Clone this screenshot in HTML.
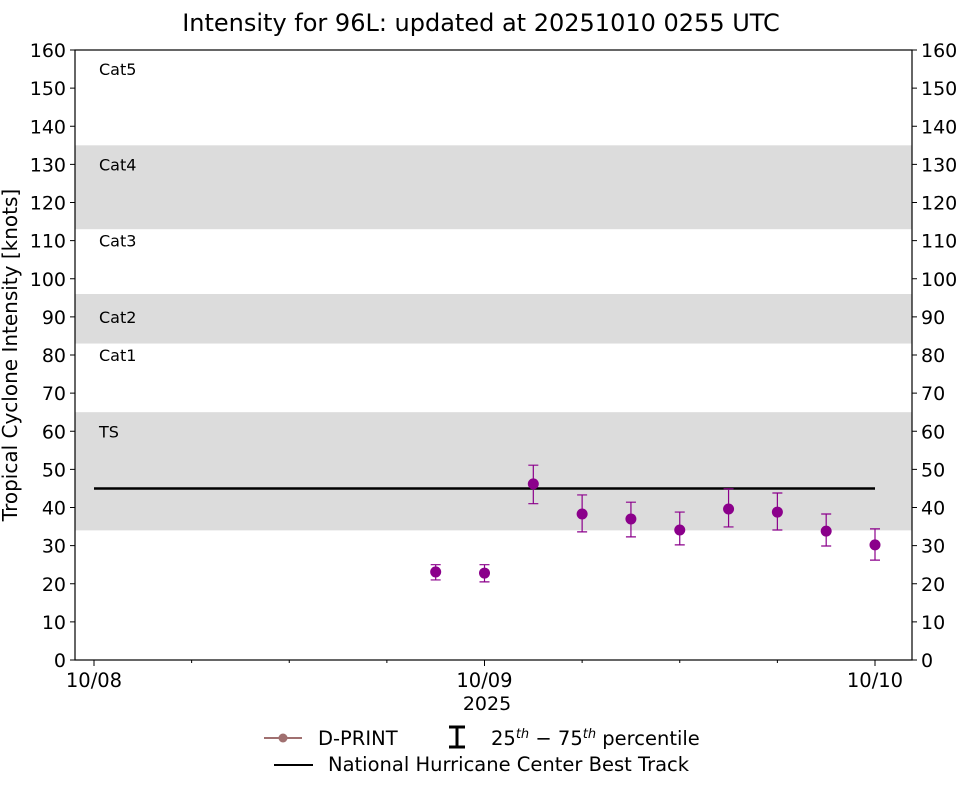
<!DOCTYPE html>
<html><head><meta charset="utf-8">
<style>body{margin:0;background:#fff}svg{font-family:"DejaVu Sans","Liberation Sans",sans-serif}</style>
</head><body>
<svg id="chart" width="962" height="785" xmlns="http://www.w3.org/2000/svg">
<text x="481" y="31" font-size="24" text-anchor="middle">Intensity for 96L: updated at 20251010 0255 UTC</text>
<g id="bands"></g>
<g id="axes"></g>
<g id="marks"></g>
<rect x="75" y="50" width="837" height="610" fill="none" stroke="#000" stroke-width="1.2"/>
<text x="0" y="0" transform="translate(17,355) rotate(-90)" font-size="20" text-anchor="middle">Tropical Cyclone Intensity [knots]</text>
<text x="487" y="710" font-size="19" text-anchor="middle">2025</text>
<g>
<line x1="264" y1="738" x2="302" y2="738" stroke="#a07070" stroke-width="2"/>
<circle cx="283" cy="738" r="4.5" fill="#a07070"/>
<text x="318" y="745" font-size="19.5">D-PRINT</text>
<path d="M449 727H465M457 727V747M449 747H465" stroke="#000" stroke-width="3" fill="none"/>
<text x="491" y="745" font-size="19.5">25<tspan font-size="13" dy="-7" font-style="italic">th</tspan><tspan dy="7"> − 75</tspan><tspan font-size="13" dy="-7" font-style="italic">th</tspan><tspan dy="7"> percentile</tspan></text>
<line x1="274" y1="765" x2="313" y2="765" stroke="#000" stroke-width="2"/>
<text x="328" y="771" font-size="19.5">National Hurricane Center Best Track</text>
</g>
</svg>
<script>
const hours = [21,24,27,30,33,36,39,42,45,48];
const intensity = [23.1,22.8,46.2,38.3,37,34.1,39.6,38.8,33.8,30.2];
const p75 = [25,25,51.1,43.3,41.4,38.8,44.9,43.8,38.3,34.4];
const p25 = [21,20.5,41,33.6,32.3,30.2,34.9,34.1,29.9,26.2];
const bestTrackHours = [0,48];
const bestTrackValues = [45,45];
const yTicks = [0,10,20,30,40,50,60,70,80,90,100,110,120,130,140,150,160];
const xTickHours = [0,24,48];
const xTickLabels = ["10/08","10/09","10/10"];
const bandLow = [34,83,113];
const bandHigh = [65,96,135];
const catNames = ["TS","Cat1","Cat2","Cat3","Cat4","Cat5"];
const catValues = [60,80,90,110,130,155];

const NS="http://www.w3.org/2000/svg";
const X=h=>94+h*(781/48);
const Y=v=>660-v*(610/160);
function mk(parent,tag,attrs){const e=document.createElementNS(NS,tag);for(const k in attrs)e.setAttribute(k,attrs[k]);document.getElementById(parent).appendChild(e);return e;}

bandLow.forEach((lo,i)=>{const r=mk('bands','rect',{x:75,y:Y(bandHigh[i]),width:837,height:Y(lo)-Y(bandHigh[i]),fill:'#dcdcdc'});

});
catNames.forEach((n,i)=>{const t=mk('bands','text',{x:99,y:Y(catValues[i])+6,'font-size':16});t.textContent=n;

});

yTicks.forEach(v=>{const y=Y(v);
mk('axes','line',{x1:70,x2:75,y1:y,y2:y,stroke:'#000'});
mk('axes','line',{x1:912,x2:917,y1:y,y2:y,stroke:'#000'});
const a=mk('axes','text',{x:66,y:y+7,'font-size':19,'text-anchor':'end'});a.textContent=v;


const b=mk('axes','text',{x:921,y:y+7,'font-size':19});b.textContent=v;

});
for(let h=6;h<48;h+=6){if(h%24)mk('axes','line',{x1:X(h),x2:X(h),y1:660,y2:663,stroke:'#000'});}
xTickHours.forEach((h,i)=>{mk('axes','line',{x1:X(h),x2:X(h),y1:660,y2:666,stroke:'#000'});
const t=mk('axes','text',{x:X(h),y:687,'font-size':19.5,'text-anchor':'middle'});t.textContent=xTickLabels[i];

});

const bt=mk('marks','line',{x1:X(bestTrackHours[0]),x2:X(bestTrackHours[1]),y1:Y(bestTrackValues[0]),y2:Y(bestTrackValues[1]),stroke:'#000','stroke-width':2.5});


hours.forEach((h,i)=>{const x=X(h);
const e=mk('marks','path',{d:`M${x-5} ${Y(p75[i])}H${x+5}M${x} ${Y(p75[i])}V${Y(p25[i])}M${x-5} ${Y(p25[i])}H${x+5}`,stroke:'#8b008b','stroke-width':1.2,fill:'none'});


const c=mk('marks','circle',{cx:x,cy:Y(intensity[i]),r:5.5,fill:'#8b008b'});

});
</script>
</body></html>
